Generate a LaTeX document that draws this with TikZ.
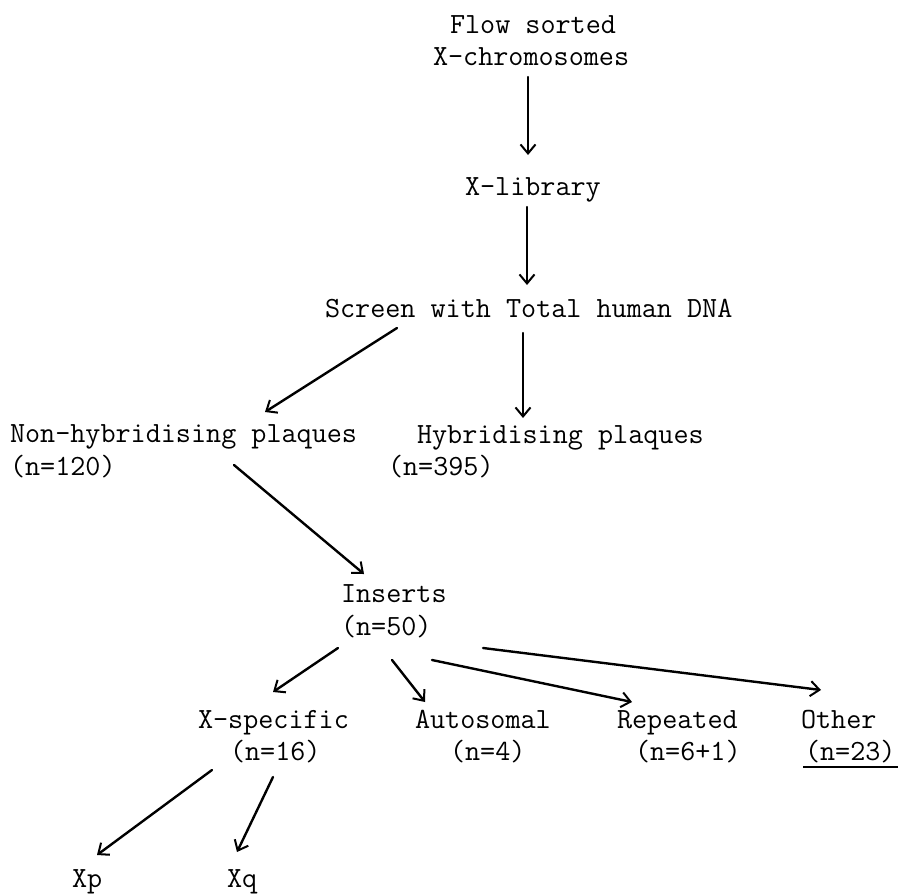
\documentclass[tikz,border=0pt]{standalone}
\usepackage{fontspec}
\usetikzlibrary{arrows.meta}
\tikzset{
  lbl/.style={anchor=base west, inner sep=0pt, outer sep=0pt, font=\ttfamily\fontsize{29.3}{32}\selectfont},
  conn/.style={line width=2.4pt, line cap=round, -{Straight Barb[length=9pt,width=15pt,line width=2pt]}},
  uline/.style={line width=1.6pt}
}
\begin{document}
\begin{tikzpicture}[x=1pt,y=-1pt]
\useasboundingbox (0,0) rectangle (898,894);
\fill[white] (0,0) rectangle (898,894);

\node[lbl] (n1a) at (450,33) {Flow sorted};
\node[lbl] (n1b) at (433,65) {X-chromosomes};
\node[lbl] (n2) at (465,195) {X-library};
\node[lbl] (n3) at (325,317) {Screen with Total human DNA};
\node[lbl] (n4a) at (10,442) {Non-hybridising plaques};
\node[lbl] (n4b) at (10,475) {(n=120)};
\node[lbl] (n5a) at (417,443) {Hybridising plaques};
\node[lbl] (n5b) at (388,475) {(n=395)};
\node[lbl] (n6a) at (341,602) {Inserts};
\node[lbl] (n6b) at (341,635) {(n=50)};
\node[lbl] (n7a) at (198,728) {X-specific};
\node[lbl] (n7b) at (230,760) {(n=16)};
\node[lbl] (n8a) at (415,728) {Autosomal};
\node[lbl] (n8b) at (450,760) {(n=4)};
\node[lbl] (n9a) at (617,728) {Repeated};
\node[lbl] (n9b) at (635,760) {(n=6+1)};
\node[lbl] (n10a) at (801,728) {Other};
\node[lbl] (n10b) at (805,760) {(n=23)};
\node[lbl] (n11) at (72,887) {Xp};
\node[lbl] (n12) at (227,887) {Xq};

\draw[uline] ([shift={(-2,7)}]n10b.base west) -- ([shift={(2,7)}]n10b.base east);

\draw[conn] ([shift={(95,12)}]n1b.base west) -- ([shift={(63,-40)}]n2.base west);
\draw[conn] ([shift={(62,12)}]n2.base west) -- ([shift={(202,-32)}]n3.base west);
\draw[conn] ([shift={(72,11)}]n3.base west) -- ([shift={(255,-30)}]n4a.base west);
\draw[conn] ([shift={(198,16)}]n3.base west) -- ([shift={(106,-25)}]n5a.base west);
\draw[conn] ([shift={(224,-10)}]n4b.base west) -- ([shift={(23,-28)}]n6a.base west);
\draw[conn] ([shift={(-3,13)}]n6b.base west) -- ([shift={(75,-36)}]n7a.base west);
\draw[conn] ([shift={(51,25)}]n6b.base west) -- ([shift={(10,-26)}]n8a.base west);
\draw[conn] ([shift={(91,25)}]n6b.base west) -- ([shift={(15,-26)}]n9a.base west);
\draw[conn] ([shift={(142,13)}]n6b.base west) -- ([shift={(20,-38)}]n10a.base west);
\draw[conn] ([shift={(-18,10)}]n7b.base west) -- ([shift={(25,-32)}]n11.base west);
\draw[conn] ([shift={(43,17)}]n7b.base west) -- ([shift={(10,-35)}]n12.base west);
\end{tikzpicture}
\end{document}
